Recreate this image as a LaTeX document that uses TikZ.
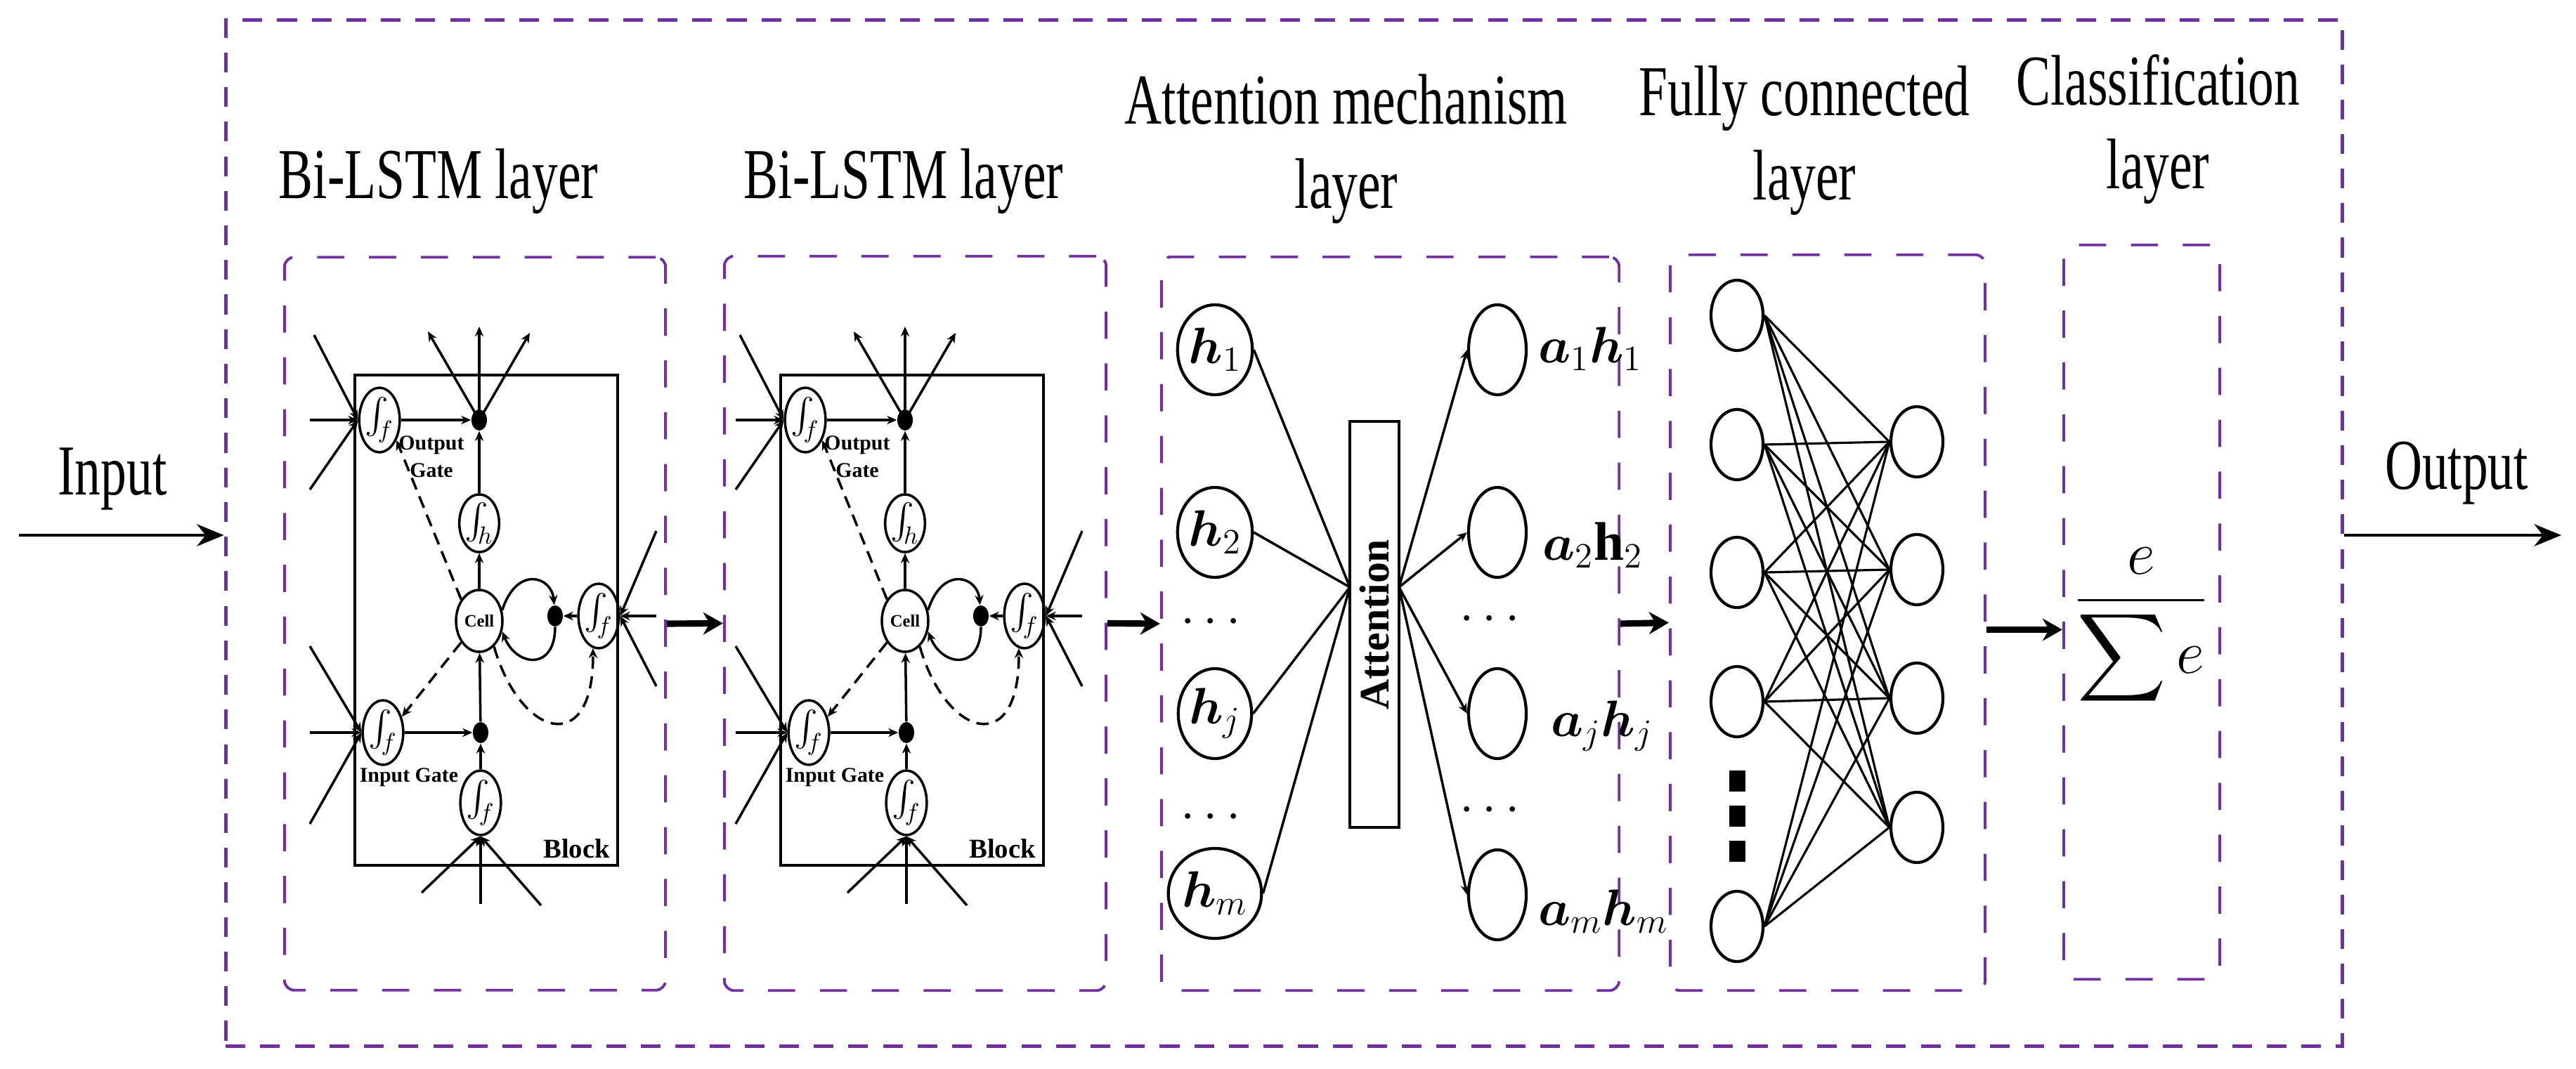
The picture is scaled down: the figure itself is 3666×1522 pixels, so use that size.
\documentclass[tikz,border=0pt]{standalone}
\usepackage{amsmath,bm}
\usepackage{fontspec}
\setmainfont{Liberation Serif}
\newfontfamily\titlefont{Liberation Serif}[FakeStretch=0.72]
\usetikzlibrary{shapes.geometric}
\usetikzlibrary{arrows.meta}
\usetikzlibrary{calc}
\definecolor{boxpurple}{RGB}{112,48,160}
\tikzset{
  layer/.style = {draw = boxpurple, line width = 1.1pt, dash pattern = on 11pt off 10pt,
    rounded corners = 4pt, inner sep = 0pt},
  title/.style = {font = \titlefont\fontsize{29}{34}\selectfont, align = center},
  gate/.style = {draw, ellipse, line width = 1pt, minimum width = 0.5cm,
    minimum height = 0.72cm, inner sep = 0pt, font = \fontsize{14}{14}\selectfont},
  dot/.style = {ellipse, fill, inner sep = 0pt, minimum width = 0.22cm, minimum height = 0.3cm},
  small_lbl/.style = {font = \bfseries\fontsize{8.5}{11}\selectfont, align = center, inner sep = 1pt},
  unit/.style = {draw, ellipse, line width = 1.2pt, minimum width = 0.82cm,
    minimum height = 1.28cm, inner sep = 0pt, font = \fontsize{22}{22}\selectfont},
  fc/.style = {draw, ellipse, line width = 1.2pt, minimum width = 0.74cm, minimum height = 1cm},
  wire/.style = {line width = 1pt},
  sarrow/.style = {wire, -{Stealth[length=4pt,width=3.5pt]}},
  darrow/.style = {sarrow, dash pattern = on 5pt off 3pt},
  bigarrow/.style = {line width = 2.6pt, -{Stealth[length=8pt,width=9pt]}},
  io_arrow/.style = {line width = 1pt, -{Stealth[length=11pt,width=9pt]}}
}

\begin{document}
\begin{tikzpicture}[x=0.01cm, y=-0.01cm]
\useasboundingbox (0,0) rectangle (3666,1522);

% outer frame
\node[draw = boxpurple, line width = 1.4pt, dash pattern = on 8pt off 6pt,
  minimum width = 30.11cm, minimum height = 14.6cm, inner sep = 0pt] (frame) at (1827.5,759) {};
\node[title] (input) at (160,682) {Input};
\node[title] (output) at (3496,674) {Output};
\coordinate (in_start) at (27,762);
\coordinate (out_end) at (3645,762);
\draw[io_arrow] (in_start) -- (in_start -| frame.west);
\draw[io_arrow] (out_end -| frame.east) -- (out_end);

% layer boxes
\node[layer, minimum width = 5.42cm, minimum height = 10.43cm] (lay1) at (676,888) {};
\node[layer, minimum width = 5.43cm, minimum height = 10.45cm] (lay2) at (1302.5,887.5) {};
\node[layer, minimum width = 6.51cm, minimum height = 10.44cm] (lay3) at (1978.5,888) {};
\node[layer, minimum width = 4.48cm, minimum height = 10.47cm] (lay4) at (2601,886.5) {};
\node[layer, minimum width = 2.22cm, minimum height = 10.45cm] (lay5) at (3048,871.5) {};

\node[title] (t1) at (624,258) {Bi-LSTM layer};
\node[title] (t2) at (1286,258) {Bi-LSTM layer};
\node[title] (t3) at (1916,212) {Attention mechanism\\layer};
\node[title] (t4) at (2568,200) {Fully connected\\layer};
\node[title] (t5) at (3071,184) {Classification\\layer};

\draw[bigarrow] (lay1.east) -- (lay2.west);
\draw[bigarrow] (lay2.east) -- (lay3.west);
\draw[bigarrow] (lay3.east) -- (lay4.west);
\draw[bigarrow] ($(lay4.east)+(0,10)$) -- ($(lay4.east -| lay5.west)+(0,10)$);

% LSTM blocks
\foreach \s/\n in {0/a,606/b}{
\begin{scope}[shift={(\s,0)}]
 \node[draw, line width = 1.2pt, minimum width = 3.74cm, minimum height = 6.98cm,
   inner sep = 0pt] (\n-blk) at (692,883) {};
 \node[small_lbl, font = \bfseries\fontsize{11}{12}\selectfont, anchor = south east] (\n-blbl) at (872,1226) {Block};
 \node[gate] (\n-og) at (540,598) {$\int_{\!f}$};
 \node[dot] (\n-od) at (682,598) {};
 \node[gate] (\n-sh) at (682,745) {$\int_{\!h}$};
 \node[draw, ellipse, line width = 1pt, minimum width = 0.66cm, minimum height = 0.88cm,
   inner sep = 0pt, font = \bfseries\fontsize{7}{7}\selectfont] (\n-cell) at (682,884) {Cell};
 \node[dot] (\n-ld) at (790,877) {};
 \node[gate] (\n-fg) at (852,877) {$\int_{\!f}$};
 \node[gate] (\n-ig) at (545,1043) {$\int_{\!f}$};
 \node[dot] (\n-id) at (684,1043) {};
 \node[gate] (\n-bg) at (684,1143) {$\int_{\!f}$};
 \node[small_lbl] (\n-olbl) at (614,650) {Output\\Gate};
 \node[small_lbl] (\n-ilbl) at (582,1107) {Input Gate};

 \foreach \p in {(447,477),(441,598),(441,697)}
   \draw[sarrow] \p -- (\n-og.west);
 \foreach \p in {(441,920),(441,1043),(441,1173)}
   \draw[sarrow] \p -- (\n-ig.west);
 \foreach \p in {(600,1271),(684,1287),(770,1289)}
   \draw[sarrow] \p -- (\n-bg.south);
 \foreach \p in {(934,756),(934,877),(934,977)}
   \draw[sarrow] \p -- (\n-fg.east);
 \foreach \p in {(609,472),(682,465),(754,474)}
   \draw[sarrow] (\n-od.center) -- \p;

 \draw[sarrow] (\n-og) -- (\n-od);
 \draw[sarrow] (\n-ig) -- (\n-id);
 \draw[sarrow] (\n-sh) -- (\n-od);
 \draw[sarrow] (\n-cell) -- (\n-sh);
 \draw[sarrow] (\n-id) -- (\n-cell);
 \draw[sarrow] (\n-bg) -- (\n-id);
 \draw[sarrow] (\n-fg) -- (\n-ld);
 \draw[sarrow] (\n-cell.25) .. controls (735,805) and (785,820) .. (\n-ld);
 \draw[sarrow] (\n-ld) .. controls (790,955) and (735,950) .. (\n-cell.-25);
 \draw[darrow] (\n-cell.130) -- (\n-og.-50);
 \draw[darrow] (\n-cell.-130) -- (\n-ig.40);
 \draw[darrow] (\n-cell.-60) .. controls (740,1050) and (845,1080) .. (\n-fg.-100);
\end{scope}
}

% attention layer
\node[draw, line width = 1.2pt, rotate = 90, minimum width = 5.78cm, minimum height = 0.7cm,
  inner sep = 0pt, font = \bfseries\fontsize{17}{17}\selectfont] (att) at (1956,889) {Attention};
\coordinate (att_in) at (1921,836);
\coordinate (att_out) at (1991,836);
\foreach \y/\t/\nm in {498/1/h1,758/2/h2,1016/j/hj,1272/m/hm}{
  \node[unit] (\nm) at (1729,\y) {$\bm{h}_{\t}$};
  \draw[wire] (\nm.east) -- (att_in);
}
\foreach \y/\nm in {498/a1,758/a2,1016/aj,1274/am}{
  \node[unit] (\nm) at (2131,\y) {};
  \draw[sarrow] (att_out) -- (\nm.west);
}
\node[font = \fontsize{22}{22}\selectfont, anchor = west] (a1_lbl) at (2177,497) {$\bm{a}_1\bm{h}_1$};
\node[font = \fontsize{22}{22}\selectfont, anchor = west] (a2_lbl) at (2183,776) {$\bm{a}_2\mathbf{h}_2$};
\node[font = \fontsize{22}{22}\selectfont, anchor = west] (aj_lbl) at (2195,1034) {$\bm{a}_j\bm{h}_j$};
\node[font = \fontsize{22}{22}\selectfont, anchor = west] (am_lbl) at (2177,1298) {$\bm{a}_m\bm{h}_m$};
\foreach \y/\nm in {886/ld1,1164/ld2}
  \node[font = \fontsize{22}{22}\selectfont] (\nm) at (1729,\y) {$\cdots$};
\foreach \y/\nm in {882/rd1,1154/rd2}
  \node[font = \fontsize{22}{22}\selectfont] (\nm) at (2126,\y) {$\cdots$};

% fully connected layer
\foreach \y [count=\i] in {449,633,815,999,1319}
  \node[fc] (fl\i) at (2472,\y) {};
\foreach \y [count=\j] in {629,811,994,1178}
  \node[fc] (fr\j) at (2728,\y) {};
\foreach \y [count=\k] in {1112,1162,1212}
  \node[fill, inner sep = 0pt, minimum width = 0.23cm, minimum height = 0.3cm] (sq\k) at (2472,\y) {};
\foreach \i in {1,...,5}{
  \foreach \j in {1,...,4}{
    \draw[line width = 0.9pt] (fl\i.east) -- (fr\j.west);
  }
}

% classification layer
\node[font = \fontsize{26}{30}\selectfont] (softmax) at (3047,893) {$\dfrac{e}{\displaystyle\sum e}$};
\end{tikzpicture}
\end{document}
